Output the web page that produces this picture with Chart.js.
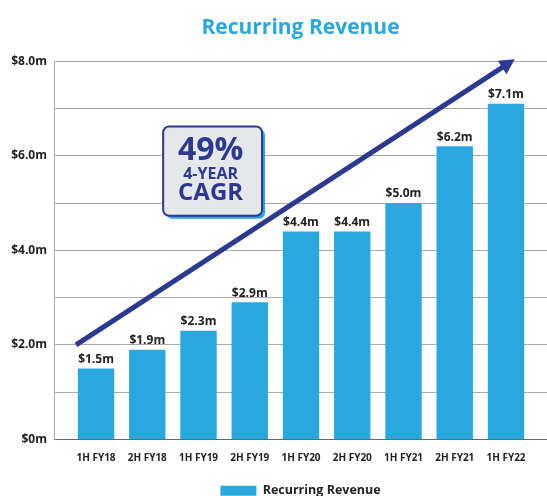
<!DOCTYPE html>
<html>
<head>
<meta charset="utf-8">
<script src="https://cdn.jsdelivr.net/npm/chart.js@4.4.0/dist/chart.umd.min.js"></script>
<style>
  html, body { margin: 0; padding: 0; background: #fff; }
  #wrap { width: 547px; height: 496px; }
</style>
</head>
<body>
<div id="wrap"><canvas id="grafRevenue"></canvas></div>
<script>
const periodos = ['1H FY18', '2H FY18', '1H FY19', '2H FY19', '1H FY20', '2H FY20', '1H FY21', '2H FY21', '1H FY22'];
const ingresos = [1.5, 1.9, 2.3, 2.9, 4.4, 4.4, 5.0, 6.2, 7.1];
const yTicks = [0, 1, 2, 3, 4, 5, 6, 7, 8];
const flecha = [[-0.39, 2.0], [8.17, 8.04]];   // arrow start / end (x index, $m)
const cagrTexto = ['49%', '4-YEAR', 'CAGR'];

const azul = '#29a8e0';
const marino = '#2b3990';
const fuente = "'Open Sans', sans-serif";

// arrow + CAGR badge + value labels
const extras = {
  id: 'extras',
  afterDatasetsDraw(chart) {
    const {ctx, scales: {x, y}} = chart;
    ctx.save();

    // flecha
    const x0 = x.getPixelForValue(flecha[0][0]), y0 = y.getPixelForValue(flecha[0][1]);
    const x1 = x.getPixelForValue(flecha[1][0]), y1 = y.getPixelForValue(flecha[1][1]);
    const ang = Math.atan2(y1 - y0, x1 - x0);
    const largo = 15, ancho = 8;
    ctx.strokeStyle = marino;
    ctx.fillStyle = marino;
    ctx.lineWidth = 5;
    ctx.beginPath();
    ctx.moveTo(x0, y0);
    ctx.lineTo(x1 - Math.cos(ang) * largo * 0.8, y1 - Math.sin(ang) * largo * 0.8);
    ctx.stroke();
    ctx.beginPath();
    ctx.moveTo(x1, y1);
    ctx.lineTo(x1 - Math.cos(ang) * largo - Math.sin(ang) * ancho, y1 - Math.sin(ang) * largo + Math.cos(ang) * ancho);
    ctx.lineTo(x1 - Math.cos(ang) * largo + Math.sin(ang) * ancho, y1 - Math.sin(ang) * largo - Math.cos(ang) * ancho);
    ctx.closePath();
    ctx.fill();

    // caja CAGR
    const bx = x.getPixelForValue(1.31), bx2 = x.getPixelForValue(3.24);
    const by = y.getPixelForValue(6.62), by2 = y.getPixelForValue(4.73);
    const w = bx2 - bx, h = by2 - by;
    ctx.fillStyle = azul;
    ctx.beginPath();
    ctx.roundRect(bx + 3, by + 3, w, h, 6);
    ctx.fill();
    ctx.fillStyle = '#e6e7e8';
    ctx.strokeStyle = marino;
    ctx.lineWidth = 2;
    ctx.beginPath();
    ctx.roundRect(bx, by, w, h, 6);
    ctx.fill();
    ctx.stroke();

    const cx = bx + w / 2 - 2;
    ctx.fillStyle = marino;
    ctx.textAlign = 'center';
    ctx.textBaseline = 'alphabetic';
    ctx.font = 'bold 32px ' + fuente;
    ctx.fillText(cagrTexto[0], cx, by + 34);
    ctx.font = 'bold 16px ' + fuente;
    ctx.fillText(cagrTexto[1], cx, by + 53);
    ctx.font = 'bold 24px ' + fuente;
    ctx.fillText(cagrTexto[2], cx, by + 74);

    // etiquetas de valor
    ctx.fillStyle = '#222';
    ctx.font = 'bold 12px ' + fuente;
    ctx.textBaseline = 'bottom';
    chart.getDatasetMeta(0).data.forEach((bar, i) => {
      ctx.fillText('$' + ingresos[i].toFixed(1) + 'm', bar.x, bar.y - 3);
    });
    ctx.restore();
  }
};

const config = {
  type: 'bar',
  data: {
    datasets: [{
      label: 'Recurring Revenue',
      data: ingresos.map((v, i) => ({x: i, y: v})),
      backgroundColor: azul,
      borderWidth: 0,
      barPercentage: 0.71,
      categoryPercentage: 1
    }]
  },
  options: {
    responsive: true,
    maintainAspectRatio: false,
    animation: false,
    layout: {padding: {left: 0, right: 0, top: 0, bottom: -11}},
    scales: {
      x: {
        type: 'linear',
        offset: false,
        min: -0.82,
        max: 8.8,
        afterBuildTicks: (scale) => { scale.ticks = periodos.map((p, i) => ({value: i})); },
        afterFit: (scale) => { scale.height -= 3; },
        grid: {display: false, drawTicks: false},
        border: {color: '#666', width: 1},
        ticks: {
          autoSkip: false,
          maxRotation: 0,
          padding: 13,
          color: '#222',
          font: {family: fuente, size: 10, weight: 'bold'},
          callback: (v) => periodos[v]
        }
      },
      y: {
        min: 0,
        max: 8,
        afterBuildTicks: (scale) => { scale.ticks = yTicks.map(v => ({value: v})); },
        afterFit: (scale) => { scale.width = 54; },
        grid: {color: '#aaa', drawTicks: false},
        border: {color: '#aaa'},
        ticks: {
          padding: 7,
          color: '#222',
          font: {family: fuente, size: 12, weight: 'bold'},
          callback: (v) => v % 2 ? '' : (v === 0 ? '$0m' : '$' + v.toFixed(1) + 'm')
        }
      }
    },
    plugins: {
      title: {
        display: true,
        text: 'Recurring Revenue',
        color: azul,
        fullSize: false,
        font: {family: fuente, size: 21, weight: 'bold'},
        padding: {top: 15, bottom: 21}
      },
      legend: {
        position: 'bottom',
        fullSize: false,
        labels: {
          boxWidth: 36,
          boxHeight: 10,
          color: '#222',
          padding: 10,
          font: {family: fuente, size: 12.5, weight: 'bold'}
        }
      },
      tooltip: {enabled: false}
    }
  },
  plugins: [extras]
};

new Chart(document.getElementById('grafRevenue'), config);
</script>
</body>
</html>
